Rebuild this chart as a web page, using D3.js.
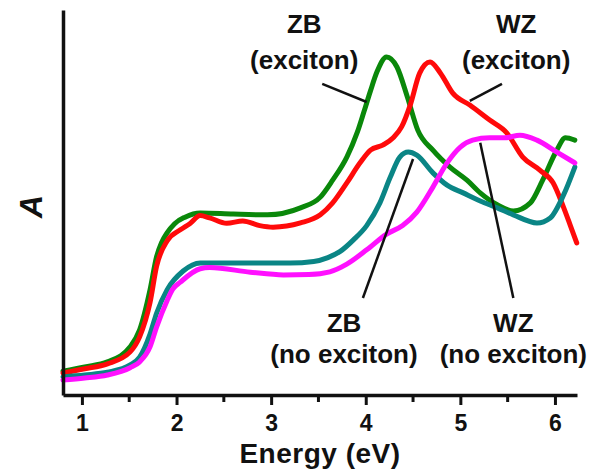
<!DOCTYPE html>
<html>

<head>
  <meta charset="UTF-8" />
  <title>Absorption spectra</title>
  <style>
    body {
      margin: 0;
      background: white;
    }

    svg text {
      font-family: "Liberation Sans", Arial, Helvetica, sans-serif;
      font-weight: bold;
      fill: #111;
    }
  </style>
  <script src="https://d3js.org/d3.v7.min.js"></script>
</head>

<body>
  <script>
    /* energy (eV) and absorbance (arb. units) */
    let zbExcE = [0.80, 1.03, 1.27, 1.51, 1.61, 1.72, 1.79, 1.84, 1.90, 1.98, 2.09, 2.25, 2.60, 2.96, 3.31, 3.52, 3.65, 3.80, 3.91, 3.98, 4.05, 4.12, 4.22, 4.33, 4.44, 4.55, 4.71, 4.89, 5.07, 5.21, 5.39, 5.56, 5.74, 5.87, 6.02, 6.11, 6.21];
    let zbExcA = [0.062, 0.073, 0.086, 0.125, 0.169, 0.273, 0.360, 0.395, 0.421, 0.445, 0.462, 0.473, 0.470, 0.468, 0.486, 0.514, 0.558, 0.618, 0.682, 0.735, 0.790, 0.840, 0.878, 0.852, 0.774, 0.688, 0.636, 0.592, 0.558, 0.525, 0.494, 0.478, 0.499, 0.558, 0.636, 0.668, 0.662];

    let wzExcE = [0.80, 1.03, 1.27, 1.51, 1.61, 1.72, 1.79, 1.90, 2.04, 2.14, 2.25, 2.35, 2.53, 2.70, 2.88, 3.02, 3.31, 3.52, 3.65, 3.80, 3.94, 4.05, 4.18, 4.29, 4.38, 4.47, 4.57, 4.68, 4.79, 4.92, 5.10, 5.31, 5.49, 5.66, 5.84, 5.98, 6.09, 6.16, 6.23];
    let wzExcA = [0.057, 0.068, 0.081, 0.112, 0.151, 0.240, 0.335, 0.400, 0.429, 0.445, 0.466, 0.460, 0.446, 0.452, 0.440, 0.436, 0.447, 0.468, 0.499, 0.551, 0.603, 0.636, 0.649, 0.668, 0.697, 0.753, 0.836, 0.865, 0.836, 0.784, 0.753, 0.714, 0.681, 0.618, 0.584, 0.551, 0.488, 0.442, 0.395];

    let zbNoE = [0.80, 1.03, 1.27, 1.51, 1.61, 1.72, 1.79, 1.90, 2.07, 2.25, 2.78, 3.20, 3.45, 3.60, 3.73, 3.87, 4.01, 4.15, 4.26, 4.36, 4.45, 4.54, 4.71, 4.86, 5.03, 5.21, 5.39, 5.56, 5.81, 5.95, 6.09, 6.21];
    let zbNoA = [0.047, 0.052, 0.059, 0.078, 0.098, 0.158, 0.213, 0.273, 0.322, 0.343, 0.343, 0.343, 0.347, 0.357, 0.373, 0.403, 0.440, 0.499, 0.566, 0.618, 0.631, 0.623, 0.577, 0.545, 0.525, 0.504, 0.486, 0.468, 0.447, 0.460, 0.519, 0.592];

    let wzNoE = [0.80, 1.03, 1.27, 1.51, 1.61, 1.72, 1.79, 1.90, 1.96, 2.04, 2.25, 2.35, 2.78, 3.13, 3.40, 3.62, 3.80, 4.01, 4.22, 4.39, 4.54, 4.71, 4.86, 5.00, 5.13, 5.31, 5.47, 5.63, 5.81, 6.02, 6.21];
    let wzNoA = [0.039, 0.044, 0.052, 0.071, 0.086, 0.125, 0.177, 0.245, 0.275, 0.293, 0.328, 0.331, 0.319, 0.312, 0.313, 0.320, 0.340, 0.377, 0.418, 0.440, 0.475, 0.540, 0.603, 0.644, 0.662, 0.668, 0.668, 0.675, 0.662, 0.631, 0.603];

    let xTicks = [1, 2, 3, 4, 5, 6];
    let xMinorTicks = [1.5, 2.5, 3.5, 4.5, 5.5];

    let series = [
      { name: "ZB (exciton)", color: "#0a880a", E: zbExcE, A: zbExcA },
      { name: "WZ (exciton)", color: "#ff0a0a", E: wzExcE, A: wzExcA },
      { name: "ZB (no exciton)", color: "#0a8585", E: zbNoE, A: zbNoA },
      { name: "WZ (no exciton)", color: "#ff10ff", E: wzNoE, A: wzNoA }
    ];

    /* callouts: text anchor and pointer line, in data units */
    let notes = [
      { lines: ["ZB", "(exciton)"], x: 3.35, y: 0.940, gap: 36, from: [3.54, 0.808], to: [4.01, 0.761] },
      { lines: ["WZ", "(exciton)"], x: 5.59, y: 0.940, gap: 36, from: [5.44, 0.808], to: [5.10, 0.764] },
      { lines: ["ZB", "(no exciton)"], x: 3.77, y: 0.164, gap: 31, from: [4.50, 0.613], to: [3.97, 0.252] },
      { lines: ["WZ", "(no exciton)"], x: 5.56, y: 0.164, gap: 31, from: [5.21, 0.655], to: [5.56, 0.252] }
    ];

    let width = 594;
    let height = 473;
    let margin = { top: 10, right: 17, bottom: 78, left: 63 };

    let svg = d3.select("body")
      .append("svg")
      .attr("width", width)
      .attr("height", height);

    let xScale = d3.scaleLinear()
      .domain([0.8, 6.233])
      .range([margin.left, width - margin.right]);

    let yScale = d3.scaleLinear()
      .domain([0, 1])
      .range([height - margin.bottom, margin.top]);

    /* curves */
    let line = d3.line()
      .x(d => xScale(d[0]))
      .y(d => yScale(d[1]))
      .curve(d3.curveMonotoneX);

    svg.append("g")
      .selectAll("path")
      .data(series)
      .enter()
      .append("path")
      .attr("d", s => line(s.E.map((e, i) => [e, s.A[i]])))
      .attr("fill", "none")
      .attr("stroke", s => s.color)
      .attr("stroke-width", 5)
      .attr("stroke-linejoin", "round")
      .attr("stroke-linecap", "round");

    /* axes */
    let xAxis = svg.append("g")
      .attr("id", "x-axis")
      .attr("transform", `translate(0, ${yScale(0)})`)
      .call(d3.axisBottom(xScale)
        .tickValues(xTicks)
        .tickFormat(d3.format("d"))
        .tickSize(10)
        .tickSizeOuter(0)
        .tickPadding(10));
    xAxis.selectAll("line").attr("stroke", "#111").attr("stroke-width", 3);
    xAxis.select(".domain").attr("stroke", "#111").attr("stroke-width", 3.5);
    xAxis.selectAll("text")
      .style("font-size", "23px")
      .attr("fill", "#111");

    xAxis.selectAll(".minor")
      .data(xMinorTicks)
      .enter()
      .append("line")
      .attr("class", "minor")
      .attr("x1", d => xScale(d))
      .attr("x2", d => xScale(d))
      .attr("y1", 0)
      .attr("y2", 7)
      .attr("stroke", "#111")
      .attr("stroke-width", 3);

    let yAxis = svg.append("g")
      .attr("id", "y-axis")
      .attr("transform", `translate(${xScale(0.8)}, 0)`)
      .call(d3.axisLeft(yScale).tickValues([]).tickSizeOuter(0));
    yAxis.select(".domain").attr("stroke", "#111").attr("stroke-width", 3.5);

    /* axis titles */
    svg.append("text")
      .attr("x", (xScale.range()[0] + xScale.range()[1]) / 2)
      .attr("y", 463)
      .attr("text-anchor", "middle")
      .style("font-size", "28px")
      .style("letter-spacing", "0.5px")
      .text("Energy (eV)");

    svg.append("text")
      .attr("transform", `translate(42, ${yScale(0.49)}) rotate(-90)`)
      .attr("text-anchor", "middle")
      .style("font-size", "32px")
      .style("font-style", "italic")
      .text("A");

    /* callouts */
    let note = svg.append("g")
      .selectAll("g")
      .data(notes)
      .enter()
      .append("g");

    note.append("line")
      .attr("x1", d => xScale(d.from[0]))
      .attr("y1", d => yScale(d.from[1]))
      .attr("x2", d => xScale(d.to[0]))
      .attr("y2", d => yScale(d.to[1]))
      .attr("stroke", "#111")
      .attr("stroke-width", 2.5);

    note.append("text")
      .attr("text-anchor", "middle")
      .style("font-size", "26px")
      .selectAll("tspan")
      .data(d => d.lines.map((t, i) => ({ t: t, x: d.x, y: d.y, dy: i * d.gap })))
      .enter()
      .append("tspan")
      .attr("x", d => xScale(d.x))
      .attr("y", d => yScale(d.y) + d.dy)
      .text(d => d.t);
  </script>
</body>

</html>
